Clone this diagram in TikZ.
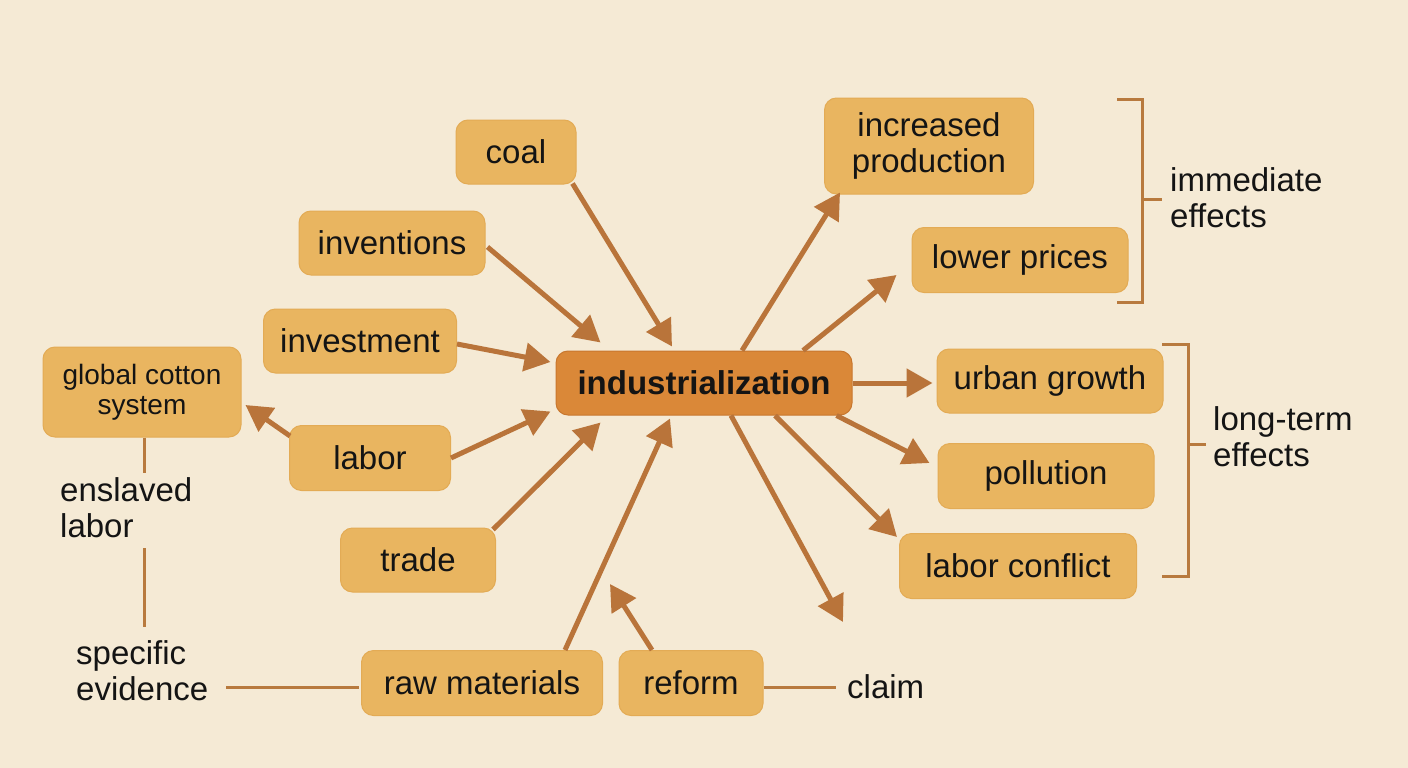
\documentclass[tikz,border=0pt]{standalone}
\usepackage{fontspec}
\setmainfont{Liberation Sans}
\usetikzlibrary{arrows.meta,calc}
\definecolor{bgc}{HTML}{F5EAD5}
\definecolor{boxfill}{HTML}{E9B560}
\definecolor{boxedge}{HTML}{E3AB55}
\definecolor{cfill}{HTML}{DA8838}
\definecolor{cedge}{HTML}{C8772E}
\definecolor{arrowc}{HTML}{B9743A}
\definecolor{linkc}{HTML}{B87A3E}
\definecolor{ink}{HTML}{141414}
\begin{document}
\begin{tikzpicture}[x=1pt,y=-1pt,
  box/.style={draw=boxedge,line width=1pt,fill=boxfill,rounded corners=12pt,inner sep=0pt,align=center,
    font=\fontsize{33}{36}\selectfont,text=ink},
  cbox/.style={box,fill=cfill,draw=cedge,font=\fontsize{33}{36}\selectfont\bfseries},
  arr/.style={draw=arrowc,line width=5pt,-{Triangle[length=26pt,width=28pt]}},
  link/.style={draw=linkc,line width=3pt},
  lbl/.style={inner sep=0pt,align=left,anchor=west,font=\fontsize{33}{36}\selectfont,text=ink}]
\fill[bgc] (0,0) rectangle (1408,768);
\useasboundingbox (0,0) rectangle (1408,768);

% nodes
\node[cbox,minimum width=296pt,minimum height=64pt] (ind) at (704,383) {industrialization};
\node[box,minimum width=120pt,minimum height=64pt] (coal) at (516,152) {coal};
\node[box,minimum width=186pt,minimum height=64pt] (inv) at (392,243) {inventions};
\node[box,minimum width=193pt,minimum height=64pt] (invest) at (360,341) {investment};
\node[box,minimum width=198pt,minimum height=90pt,font=\fontsize{28}{30}\selectfont] (gcs) at (142,392) {global cotton\\system};
\node[box,minimum width=161pt,minimum height=65pt] (labor) at (370,458) {labor};
\node[box,minimum width=155pt,minimum height=64pt] (trade) at (418,560) {trade};
\node[box,minimum width=241pt,minimum height=65pt] (raw) at (482,683) {raw materials};
\node[box,minimum width=144pt,minimum height=65pt] (reform) at (691,683) {reform};
\node[box,minimum width=209pt,minimum height=96pt] (incr) at (929,146) {increased\\production};
\node[box,minimum width=216pt,minimum height=65pt] (lower) at (1020,260) {lower prices};
\node[box,minimum width=226pt,minimum height=64pt] (urban) at (1050,381) {urban growth};
\node[box,minimum width=216pt,minimum height=65pt] (poll) at (1046,476) {pollution};
\node[box,minimum width=237pt,minimum height=65pt] (lc) at (1018,566) {labor conflict};

% labels
\node[lbl] (imm) at (1170,198) {immediate\\effects};
\node[lbl] (lt) at (1213,437) {long-term\\effects};
\node[lbl] (ens) at (60,508) {enslaved\\labor};
\node[lbl] (spec) at (76,671) {specific\\evidence};
\node[lbl] (claim) at (847,687) {claim};

\coordinate (reftip) at (610,584);
\coordinate (freetip) at (843,622);

% incoming arrows
\draw[arr] ($(coal.south east)+(-4,-1)$) -- ($(ind.north)+(-32,-4)$);
\draw[arr] ($(inv.east)+(2,4)$) -- ($(ind.north west)+(45,-8)$);
\draw[arr] ($(invest.east)+(0,3)$) -- ($(ind.west)+(-5,-21)$);
\draw[arr] (labor.east) -- ($(ind.south west)+(-5,-4)$);
\draw[arr] ($(trade.north east)+(-3,2)$) -- ($(ind.south west)+(45,7)$);
\draw[arr] ($(raw.north)+(83,0)$) -- ($(ind.south)+(-34,3)$);
\draw[arr] ($(reform.north)+(-39,0)$) -- (reftip);
\draw[arr] ($(labor.north west)+(1,11)$) -- ($(gcs.east)+(4,13)$);

% outgoing arrows
\draw[arr] ($(ind.north)+(38,0)$) -- ($(incr.south west)+(16,-2)$);
\draw[arr] ($(ind.north)+(99,0)$) -- ($(lower.west)+(-15,15)$);
\draw[arr] (ind.east) -- ($(urban.west)+(-4,2)$);
\draw[arr] ($(ind.south east)+(-16,0)$) -- ($(poll.west)+(-8,-13)$);
\draw[arr] ($(ind.south)+(71,0)$) -- ($(lc.north west)+(-2,4)$);
\draw[arr] ($(ind.south)+(27,0)$) -- (freetip);

% plain links
\draw[link] ($(gcs.south)+(2,0)$) -- ++(0,35);
\draw[link] (144,548) -- (144,627);
\draw[link] (226,687) -- ($(raw.west)+(-2,4)$);
\draw[link] ($(reform.east)+(0,4)$) -- (836,687);

% brackets
\draw[link] (1117,99) -- (1142,99) -- (1142,302) -- (1117,302);
\draw[link] (1142,199) -- (1162,199);
\draw[link] (1162,344) -- (1188,344) -- (1188,576) -- (1162,576);
\draw[link] (1188,444) -- (1206,444);
\end{tikzpicture}
\end{document}
